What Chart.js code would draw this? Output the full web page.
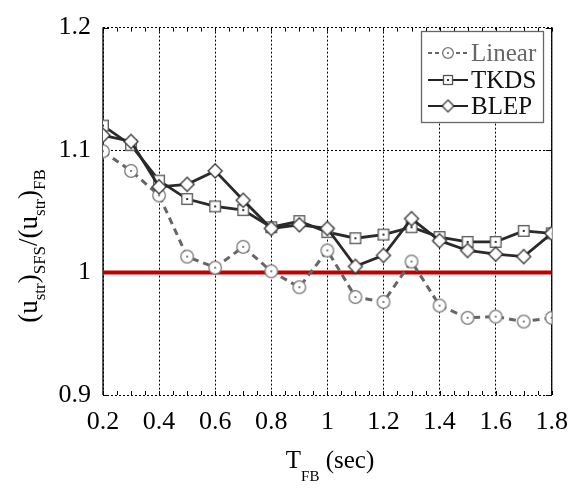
<!DOCTYPE html>
<html>
<head>
<meta charset="utf-8">
<script src="https://cdn.jsdelivr.net/npm/chart.js@4/dist/chart.umd.min.js"></script>
<style>
html,body{margin:0;padding:0;background:#fff;}
#wrap{width:580px;height:495px;}
</style>
</head>
<body>
<div id="wrap"><canvas id="c" width="580" height="495"></canvas></div>
<script>
const periods = [0.2,0.3,0.4,0.5,0.6,0.7,0.8,0.9,1.0,1.1,1.2,1.3,1.4,1.5,1.6,1.7,1.8];
const linearVals = [1.099,1.083,1.063,1.013,1.004,1.021,1.001,0.988,1.018,0.980,0.976,1.009,0.973,0.963,0.964,0.960,0.963];
const tkdsVals   = [1.120,1.104,1.075,1.060,1.054,1.051,1.037,1.042,1.033,1.028,1.031,1.037,1.029,1.025,1.025,1.034,1.032];
const blepVals   = [1.112,1.107,1.070,1.072,1.083,1.059,1.036,1.039,1.036,1.005,1.014,1.044,1.026,1.018,1.015,1.013,1.032];
const xTickValues = [0.2,0.4,0.6,0.8,1,1.2,1.4,1.6,1.8];
const yTickValues = [0.9,1,1.1,1.2];
const refLine = [1,1];
const refX = [0.2,1.8];
const seriesNames = ['Linear','TKDS','BLEP'];

const SERIF = "'Liberation Serif','Times New Roman',serif";

function makeMarker(kind, scale){
  const c = document.createElement('canvas');
  const g = c.getContext('2d');
  if(kind==='circle'){
    const s = Math.round(16*scale); c.width=c.height=s;
    const r = 6.3*scale, m = s/2;
    g.beginPath(); g.arc(m,m,r,0,Math.PI*2); g.fillStyle='#fff'; g.fill();
    g.lineWidth=1.3; g.strokeStyle='#777'; g.stroke();
    g.beginPath(); g.arc(m,m,0.9,0,Math.PI*2); g.fillStyle='#444'; g.fill();
  } else if(kind==='square'){
    const s = Math.round(14*scale); c.width=c.height=s;
    const h = 5.3*scale, m = s/2;
    g.fillStyle='#fff'; g.fillRect(m-h,m-h,2*h,2*h);
    g.lineWidth=1.3; g.strokeStyle='#555'; g.strokeRect(m-h,m-h,2*h,2*h);
    g.fillStyle='#333'; g.fillRect(m-1,m-1,2,2);
  } else {
    const s = Math.round(18*scale); c.width=c.height=s;
    const h = 7*scale, m = s/2;
    g.beginPath(); g.moveTo(m,m-h); g.lineTo(m+h,m); g.lineTo(m,m+h); g.lineTo(m-h,m); g.closePath();
    g.fillStyle='#fff'; g.fill(); g.lineWidth=1.3; g.strokeStyle='#333'; g.stroke();
  }
  return c;
}
const mCircle = makeMarker('circle',1), mSquare = makeMarker('square',1), mDiamond = makeMarker('diamond',1);
const lCircle = makeMarker('circle',0.85), lSquare = makeMarker('square',0.85), lDiamond = makeMarker('diamond',0.85);

function pts(vals){ return periods.map((x,i)=>({x:x,y:vals[i]})); }
function fmt(v){ return String(Number(v.toFixed(2))); }

const framePlugin = {
  id:'frame',
  beforeDatasetsDraw(chart){
    const {ctx, chartArea:a, scales:{x,y}} = chart;
    ctx.save();
    ctx.strokeStyle='#000'; ctx.lineWidth=1.3; ctx.setLineDash([]);
    ctx.beginPath();
    ctx.moveTo(a.left,a.top); ctx.lineTo(a.left,a.bottom);
    ctx.moveTo(a.right,a.top); ctx.lineTo(a.right,a.bottom);
    ctx.stroke();
    ctx.lineWidth=1;
    ctx.beginPath();
    for(let k=0;k<=32;k++){
      const v = 0.2 + k*0.05;
      const px = Math.round(x.getPixelForValue(v))+0.5;
      ctx.moveTo(px,a.bottom); ctx.lineTo(px,a.bottom-4);
      ctx.moveTo(px,a.top); ctx.lineTo(px,a.top+4);
    }
    yTickValues.forEach(v=>{
      const py = Math.round(y.getPixelForValue(v))+0.5;
      ctx.moveTo(a.left,py); ctx.lineTo(a.left+6,py);
      ctx.moveTo(a.right,py); ctx.lineTo(a.right-6,py);
    });
    ctx.stroke();
    ctx.restore();
  },
  afterDraw(chart){
    const {ctx} = chart;
    ctx.save();
    ctx.fillStyle='#000';
    ctx.textBaseline='alphabetic';
    // x title: T_FB (sec)
    const big = "25px "+SERIF, small = "15px "+SERIF;
    ctx.font=big; const wT = ctx.measureText('T').width;
    ctx.font=small; const wFB = ctx.measureText('FB').width;
    ctx.font=big; const wS = ctx.measureText(' (sec)').width;
    const total = wT+wFB+wS;
    let x0 = 330 - total/2; const base = 468;
    ctx.font=big; ctx.fillText('T',x0,base); x0+=wT;
    ctx.font=small; ctx.fillText('FB',x0,base+13); x0+=wFB;
    ctx.font=big; ctx.fillText(' (sec)',x0,base);
    // y title rotated
    const yBig = "27px "+SERIF, ySmall = "17px "+SERIF;
    const parts = [['(u',0],['str',1],[')',0],['SFS',1],['/(u',0],['str',1],[')',0],['FB',1]];
    let widths = parts.map(p=>{ctx.font = p[1]?ySmall:yBig; return ctx.measureText(p[0]).width;});
    const tw = widths.reduce((s,w)=>s+w,0);
    ctx.translate(37,246);
    ctx.rotate(-Math.PI/2);
    let xx = -tw/2;
    parts.forEach((p,i)=>{
      ctx.font = p[1]?ySmall:yBig;
      ctx.fillText(p[0],xx,p[1]?8:0);
      xx += widths[i];
    });
    ctx.restore();
    // legend
    ctx.save();
    const L=421, T=31, R=543, B=122;
    ctx.fillStyle='#fff'; ctx.fillRect(L,T,R-L,B-T);
    ctx.strokeStyle='#666'; ctx.lineWidth=1.3; ctx.strokeRect(L+0.5,T+0.5,R-L,B-T);
    const rows = [
      {name:seriesNames[0], y:53, color:'#666', dash:[4,3], mk:lCircle, tc:'#666'},
      {name:seriesNames[1], y:80, color:'#222', dash:[], mk:lSquare, tc:'#111'},
      {name:seriesNames[2], y:106, color:'#222', dash:[], mk:lDiamond, tc:'#111'}
    ];
    rows.forEach(r=>{
      ctx.strokeStyle=r.color; ctx.lineWidth=2; ctx.setLineDash(r.dash);
      ctx.beginPath(); ctx.moveTo(428,r.y); ctx.lineTo(468,r.y); ctx.stroke();
      ctx.setLineDash([]);
      ctx.drawImage(r.mk, 448-r.mk.width/2, r.y-r.mk.height/2);
      ctx.fillStyle=r.tc; ctx.font="25px "+SERIF; ctx.textBaseline='alphabetic';
      ctx.fillText(r.name,471,r.y+8);
    });
    ctx.restore();
  }
};

new Chart(document.getElementById('c'),{
  type:'line',
  data:{
    datasets:[
      {label:'ref', data:refX.map((x,i)=>({x:x,y:refLine[i]})), borderColor:'#c00000', borderWidth:4, pointRadius:0, order:10},
      {label:seriesNames[0], data:pts(linearVals), borderColor:'#666', borderWidth:3, borderDash:[7,5], pointStyle:mCircle, pointRadius:6, order:3},
      {label:seriesNames[1], data:pts(tkdsVals), borderColor:'#2a2a2a', borderWidth:2.8, pointStyle:mSquare, pointRadius:6, order:2},
      {label:seriesNames[2], data:pts(blepVals), borderColor:'#2a2a2a', borderWidth:2.8, pointStyle:mDiamond, pointRadius:6, order:1}
    ]
  },
  options:{
    responsive:false, animation:false, events:[],
    layout:{padding:{top:19,right:23,left:0,bottom:0}},
    plugins:{legend:{display:false}, tooltip:{enabled:false}},
    scales:{
      x:{type:'linear', min:0.2, max:1.8,
        afterBuildTicks(s){ s.ticks = xTickValues.map(v=>({value:v})); },
        afterFit(s){ s.height=100; },
        border:{display:false, dash:[2,2]},
        grid:{color:'#000', lineWidth:1, drawTicks:false},
        ticks:{padding:12, color:'#000', font:{family:SERIF, size:26}, callback:(v)=>fmt(v), maxRotation:0, autoSkip:false}
      },
      y:{type:'linear', min:0.9, max:1.2,
        afterBuildTicks(s){ s.ticks = yTickValues.map(v=>({value:v})); },
        afterFit(s){ s.width=103; },
        border:{display:false, dash:[2,2]},
        grid:{color:'#000', lineWidth:1, drawTicks:false},
        ticks:{padding:12, color:'#000', font:{family:SERIF, size:26}, callback:(v)=>fmt(v)}
      }
    }
  },
  plugins:[framePlugin]
});
</script>
</body>
</html>
